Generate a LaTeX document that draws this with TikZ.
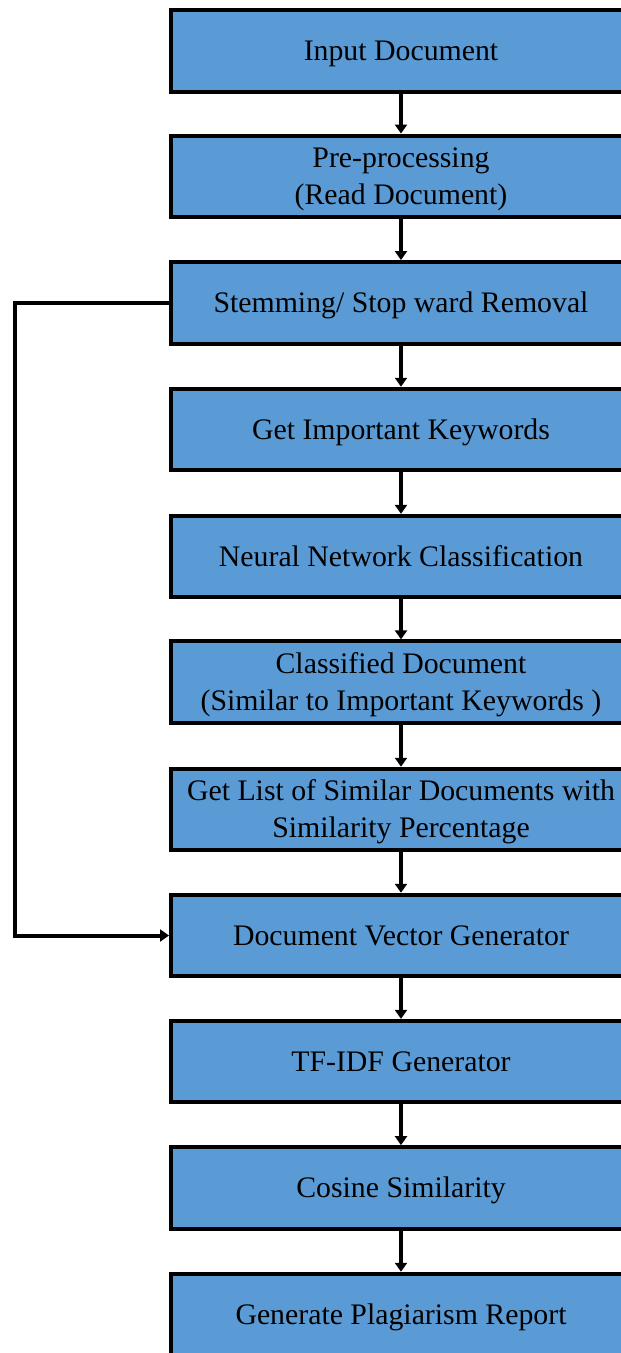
\documentclass[tikz,border=0pt]{standalone}
\usepackage{fontspec}
\setmainfont{Liberation Serif}
\usetikzlibrary{arrows.meta}
\definecolor{boxblue}{RGB}{91,155,213}
\begin{document}
\begin{tikzpicture}[x=1pt,y=-1pt,
  stepbox/.style={draw=black,fill=boxblue,line width=4pt,minimum width=460pt,minimum height=81.5pt,inner sep=0pt,
    font=\fontsize{29.8}{37}\selectfont,align=center,text height=19.7pt,text depth=0pt},
  twoline/.style={text height=56.7pt},
  conn/.style={line width=4pt,-{Triangle[length=9pt,width=12pt]}}]
\useasboundingbox (0,0) rectangle (621,1353);
\clip (0,0) rectangle (621,1353);
\node[stepbox] (b1) at (401,51) {Input Document};
\node[stepbox,twoline] (b2) at (401,176.3) {Pre-processing\\(Read Document)};
\node[stepbox] (b3) at (401,302.8) {Stemming/ Stop ward Removal};
\node[stepbox] (b4) at (401,429.5) {Get Important Keywords};
\node[stepbox] (b5) at (401,556.6) {Neural Network Classification};
\node[stepbox,twoline] (b6) at (401,682.1) {Classified Document\\(Similar to Important Keywords )};
\node[stepbox,twoline] (b7) at (401,809.5) {Get List of Similar Documents with\\Similarity Percentage};
\node[stepbox] (b8) at (401,935.5) {Document Vector Generator};
\node[stepbox] (b9) at (401,1061.6) {TF-IDF Generator};
\node[stepbox] (b10) at (401,1187.9) {Cosine Similarity};
\node[stepbox] (b11) at (401,1314.5) {Generate Plagiarism Report};
\foreach \a/\b in {b1/b2,b2/b3,b3/b4,b4/b5,b5/b6,b6/b7,b7/b8,b8/b9,b9/b10,b10/b11}
  \draw[conn] (\a.south) -- (\b.north);
\coordinate (lft) at (15,303);
\draw[conn] (b3.west) -- (b3.west -| lft) |- (b8.west);
\end{tikzpicture}
\end{document}
